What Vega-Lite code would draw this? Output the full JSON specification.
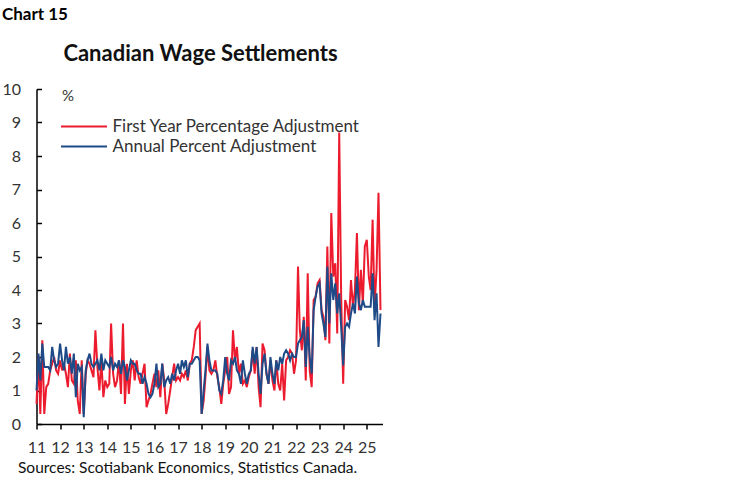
{
  "$schema": "https://vega.github.io/schema/vega-lite/v6.json",
  "background": "white",
  "padding": {"left": 1.5, "top": 6, "right": 5, "bottom": 5},
  "config": {"font": "Lato", "view": {"stroke": null}},
  "title": {
    "text": "Chart 15",
    "anchor": "start",
    "frame": "bounds",
    "fontSize": 17,
    "fontWeight": "bold",
    "color": "#000000",
    "offset": 19
  },
  "vconcat": [
    {
      "width": 346,
      "height": 335,
      "title": {
        "text": "Canadian Wage Settlements",
        "fontSize": 22,
        "fontWeight": "bold",
        "color": "#111111",
        "offset": 15,
        "dx": -9
      },
      "data": {
        "values": [
          {"d": "2011-01-01", "f": 0.6, "a": 1.0},
          {"d": "2011-02-01", "f": 2.0, "a": 2.1},
          {"d": "2011-03-01", "f": 0.3, "a": 1.3},
          {"d": "2011-04-01", "f": 2.5, "a": 2.4},
          {"d": "2011-05-01", "f": 0.3, "a": 1.7},
          {"d": "2011-06-01", "f": 1.1, "a": 1.7},
          {"d": "2011-07-01", "f": 1.2, "a": 1.7},
          {"d": "2011-08-01", "f": 1.6, "a": 1.6},
          {"d": "2011-09-01", "f": 1.8, "a": 2.3},
          {"d": "2011-10-01", "f": 2.0, "a": 1.9},
          {"d": "2011-11-01", "f": 1.6, "a": 1.7},
          {"d": "2011-12-01", "f": 1.5, "a": 1.8},
          {"d": "2012-01-01", "f": 1.9, "a": 2.4},
          {"d": "2012-02-01", "f": 1.6, "a": 1.9},
          {"d": "2012-03-01", "f": 1.8, "a": 1.6},
          {"d": "2012-04-01", "f": 1.5, "a": 2.3},
          {"d": "2012-05-01", "f": 1.1, "a": 1.8},
          {"d": "2012-06-01", "f": 2.1, "a": 2.0},
          {"d": "2012-07-01", "f": 1.3, "a": 1.5},
          {"d": "2012-08-01", "f": 1.2, "a": 2.1},
          {"d": "2012-09-01", "f": 1.9, "a": 0.8},
          {"d": "2012-10-01", "f": 0.7, "a": 1.8},
          {"d": "2012-11-01", "f": 0.3, "a": 1.6},
          {"d": "2012-12-01", "f": 1.9, "a": 1.7},
          {"d": "2013-01-01", "f": 0.3, "a": 0.2},
          {"d": "2013-02-01", "f": 1.5, "a": 1.6},
          {"d": "2013-03-01", "f": 1.9, "a": 1.9},
          {"d": "2013-04-01", "f": 1.8, "a": 2.1},
          {"d": "2013-05-01", "f": 1.6, "a": 1.8},
          {"d": "2013-06-01", "f": 1.4, "a": 1.7},
          {"d": "2013-07-01", "f": 2.8, "a": 1.8},
          {"d": "2013-08-01", "f": 1.7, "a": 1.9},
          {"d": "2013-09-01", "f": 1.0, "a": 1.6},
          {"d": "2013-10-01", "f": 1.9, "a": 2.1},
          {"d": "2013-11-01", "f": 0.8, "a": 1.6},
          {"d": "2013-12-01", "f": 1.3, "a": 1.9},
          {"d": "2014-01-01", "f": 1.1, "a": 1.8},
          {"d": "2014-02-01", "f": 1.2, "a": 1.7},
          {"d": "2014-03-01", "f": 3.0, "a": 2.0},
          {"d": "2014-04-01", "f": 1.5, "a": 1.6},
          {"d": "2014-05-01", "f": 1.1, "a": 1.8},
          {"d": "2014-06-01", "f": 1.3, "a": 1.7},
          {"d": "2014-07-01", "f": 1.9, "a": 1.9},
          {"d": "2014-08-01", "f": 0.9, "a": 1.5},
          {"d": "2014-09-01", "f": 3.0, "a": 1.9},
          {"d": "2014-10-01", "f": 0.6, "a": 1.7},
          {"d": "2014-11-01", "f": 1.8, "a": 1.3},
          {"d": "2014-12-01", "f": 0.9, "a": 1.6},
          {"d": "2015-01-01", "f": 1.6, "a": 1.9},
          {"d": "2015-02-01", "f": 1.9, "a": 1.8},
          {"d": "2015-03-01", "f": 1.3, "a": 1.8},
          {"d": "2015-04-01", "f": 1.9, "a": 1.6},
          {"d": "2015-05-01", "f": 1.4, "a": 1.5},
          {"d": "2015-06-01", "f": 1.2, "a": 1.5},
          {"d": "2015-07-01", "f": 1.5, "a": 1.2},
          {"d": "2015-08-01", "f": 1.8, "a": 1.4},
          {"d": "2015-09-01", "f": 0.5, "a": 1.2},
          {"d": "2015-10-01", "f": 0.7, "a": 0.9},
          {"d": "2015-11-01", "f": 0.9, "a": 0.8},
          {"d": "2015-12-01", "f": 1.2, "a": 0.9},
          {"d": "2016-01-01", "f": 1.5, "a": 1.2},
          {"d": "2016-02-01", "f": 1.1, "a": 1.8},
          {"d": "2016-03-01", "f": 1.6, "a": 1.1},
          {"d": "2016-04-01", "f": 0.8, "a": 1.2},
          {"d": "2016-05-01", "f": 1.8, "a": 1.8},
          {"d": "2016-06-01", "f": 1.3, "a": 1.1},
          {"d": "2016-07-01", "f": 0.3, "a": 1.3},
          {"d": "2016-08-01", "f": 0.6, "a": 1.4},
          {"d": "2016-09-01", "f": 1.0, "a": 1.2},
          {"d": "2016-10-01", "f": 1.4, "a": 1.5},
          {"d": "2016-11-01", "f": 1.8, "a": 1.3},
          {"d": "2016-12-01", "f": 1.3, "a": 1.6},
          {"d": "2017-01-01", "f": 1.4, "a": 1.8},
          {"d": "2017-02-01", "f": 1.3, "a": 1.5},
          {"d": "2017-03-01", "f": 1.5, "a": 1.9},
          {"d": "2017-04-01", "f": 1.4, "a": 1.7},
          {"d": "2017-05-01", "f": 1.6, "a": 1.9},
          {"d": "2017-06-01", "f": 1.3, "a": 1.4},
          {"d": "2017-07-01", "f": 1.8, "a": 1.8},
          {"d": "2017-08-01", "f": 1.9, "a": 1.8},
          {"d": "2017-09-01", "f": 2.3, "a": 1.9},
          {"d": "2017-10-01", "f": 2.8, "a": 2.0},
          {"d": "2017-11-01", "f": 2.9, "a": 2.0},
          {"d": "2017-12-01", "f": 3.0, "a": 1.9},
          {"d": "2018-01-01", "f": 0.3, "a": 0.3},
          {"d": "2018-02-01", "f": 0.7, "a": 1.0},
          {"d": "2018-03-01", "f": 1.4, "a": 1.6},
          {"d": "2018-04-01", "f": 2.3, "a": 2.4},
          {"d": "2018-05-01", "f": 1.6, "a": 1.9},
          {"d": "2018-06-01", "f": 1.5, "a": 1.6},
          {"d": "2018-07-01", "f": 1.6, "a": 1.6},
          {"d": "2018-08-01", "f": 1.9, "a": 1.6},
          {"d": "2018-09-01", "f": 1.4, "a": 1.5},
          {"d": "2018-10-01", "f": 1.1, "a": 1.0},
          {"d": "2018-11-01", "f": 0.6, "a": 0.9},
          {"d": "2018-12-01", "f": 1.2, "a": 1.3},
          {"d": "2019-01-01", "f": 1.6, "a": 2.0},
          {"d": "2019-02-01", "f": 2.0, "a": 1.5},
          {"d": "2019-03-01", "f": 0.9, "a": 1.3},
          {"d": "2019-04-01", "f": 1.1, "a": 1.9},
          {"d": "2019-05-01", "f": 2.8, "a": 1.8},
          {"d": "2019-06-01", "f": 1.9, "a": 2.0},
          {"d": "2019-07-01", "f": 2.3, "a": 1.6},
          {"d": "2019-08-01", "f": 1.5, "a": 1.5},
          {"d": "2019-09-01", "f": 1.8, "a": 1.2},
          {"d": "2019-10-01", "f": 1.2, "a": 1.9},
          {"d": "2019-11-01", "f": 1.3, "a": 1.5},
          {"d": "2019-12-01", "f": 1.1, "a": 1.2},
          {"d": "2020-01-01", "f": 1.4, "a": 1.5},
          {"d": "2020-02-01", "f": 1.6, "a": 1.6},
          {"d": "2020-03-01", "f": 2.2, "a": 2.3},
          {"d": "2020-04-01", "f": 1.5, "a": 1.8},
          {"d": "2020-05-01", "f": 2.3, "a": 2.3},
          {"d": "2020-06-01", "f": 1.1, "a": 1.5},
          {"d": "2020-07-01", "f": 0.5, "a": 0.9},
          {"d": "2020-08-01", "f": 2.4, "a": 1.8},
          {"d": "2020-09-01", "f": 2.2, "a": 2.1},
          {"d": "2020-10-01", "f": 1.5, "a": 1.5},
          {"d": "2020-11-01", "f": 1.2, "a": 1.2},
          {"d": "2020-12-01", "f": 1.9, "a": 2.0},
          {"d": "2021-01-01", "f": 1.3, "a": 1.5},
          {"d": "2021-02-01", "f": 1.0, "a": 1.2},
          {"d": "2021-03-01", "f": 1.9, "a": 1.9},
          {"d": "2021-04-01", "f": 1.2, "a": 1.6},
          {"d": "2021-05-01", "f": 1.0, "a": 2.0},
          {"d": "2021-06-01", "f": 1.8, "a": 1.8},
          {"d": "2021-07-01", "f": 0.7, "a": 2.1},
          {"d": "2021-08-01", "f": 1.9, "a": 2.2},
          {"d": "2021-09-01", "f": 2.0, "a": 2.1},
          {"d": "2021-10-01", "f": 2.2, "a": 1.9},
          {"d": "2021-11-01", "f": 2.1, "a": 2.1},
          {"d": "2021-12-01", "f": 1.5, "a": 2.0},
          {"d": "2022-01-01", "f": 1.9, "a": 2.0},
          {"d": "2022-02-01", "f": 4.7, "a": 2.4},
          {"d": "2022-03-01", "f": 2.8, "a": 2.5},
          {"d": "2022-04-01", "f": 2.2, "a": 2.6},
          {"d": "2022-05-01", "f": 3.2, "a": 3.1},
          {"d": "2022-06-01", "f": 1.3, "a": 1.7},
          {"d": "2022-07-01", "f": 4.5, "a": 2.9},
          {"d": "2022-08-01", "f": 1.6, "a": 2.0},
          {"d": "2022-09-01", "f": 1.1, "a": 1.5},
          {"d": "2022-10-01", "f": 3.7, "a": 3.4},
          {"d": "2022-11-01", "f": 3.8, "a": 3.8},
          {"d": "2022-12-01", "f": 4.2, "a": 4.1},
          {"d": "2023-01-01", "f": 4.3, "a": 4.2},
          {"d": "2023-02-01", "f": 3.4, "a": 3.3},
          {"d": "2023-03-01", "f": 3.2, "a": 3.0},
          {"d": "2023-04-01", "f": 2.5, "a": 2.6},
          {"d": "2023-05-01", "f": 5.3, "a": 4.7},
          {"d": "2023-06-01", "f": 2.4, "a": 3.0},
          {"d": "2023-07-01", "f": 6.3, "a": 4.5},
          {"d": "2023-08-01", "f": 4.4, "a": 3.7},
          {"d": "2023-09-01", "f": 4.8, "a": 4.2},
          {"d": "2023-10-01", "f": 2.7, "a": 3.3},
          {"d": "2023-11-01", "f": 8.7, "a": 3.9},
          {"d": "2023-12-01", "f": 3.8, "a": 2.9},
          {"d": "2024-01-01", "f": 1.2, "a": 1.75},
          {"d": "2024-02-01", "f": 3.7, "a": 2.9},
          {"d": "2024-03-01", "f": 3.5, "a": 3.0},
          {"d": "2024-04-01", "f": 3.1, "a": 2.9},
          {"d": "2024-05-01", "f": 4.3, "a": 3.3},
          {"d": "2024-06-01", "f": 3.5, "a": 3.6},
          {"d": "2024-07-01", "f": 4.0, "a": 3.3},
          {"d": "2024-08-01", "f": 5.7, "a": 4.4},
          {"d": "2024-09-01", "f": 3.4, "a": 3.6},
          {"d": "2024-10-01", "f": 4.6, "a": 3.4},
          {"d": "2024-11-01", "f": 3.6, "a": 3.7},
          {"d": "2024-12-01", "f": 5.3, "a": 3.5},
          {"d": "2025-01-01", "f": 5.5, "a": 3.5},
          {"d": "2025-02-01", "f": 4.4, "a": 3.5},
          {"d": "2025-03-01", "f": 4.0, "a": 3.5},
          {"d": "2025-04-01", "f": 6.1, "a": 4.5},
          {"d": "2025-05-01", "f": 3.5, "a": 3.1},
          {"d": "2025-06-01", "f": 4.6, "a": 3.9},
          {"d": "2025-07-01", "f": 6.9, "a": 2.3},
          {"d": "2025-08-01", "f": 3.4, "a": 3.3}
        ]
      },
      "transform": [{"fold": ["f", "a"], "as": ["series", "value"]}],
      "mark": {"type": "line", "strokeWidth": 2},
      "encoding": {
        "x": {
          "field": "d",
          "type": "temporal",
          "scale": {
            "type": "utc",
            "domain": [
              {"year": 2011, "month": 1, "date": 1, "utc": true},
              {"year": 2025, "month": 9, "date": 1, "utc": true}
            ]
          },
          "axis": {
            "tickCount": {"interval": "year", "step": 1},
            "labelExpr": "utcFormat(datum.value, '%y')",
            "grid": false,
            "domainColor": "#000000",
            "domainWidth": 1.5,
            "tickColor": "#000000",
            "tickWidth": 1.5,
            "tickSize": 5,
            "labelFontSize": 16,
            "labelColor": "#333333",
            "labelPadding": 10,
            "labelFlush": false,
            "labelOverlap": false,
            "title": "Sources: Scotiabank Economics, Statistics Canada.",
            "titleFontSize": 15.5,
            "titleFontWeight": "normal",
            "titleColor": "#111111",
            "titleAnchor": "start",
            "titleAlign": "left",
            "titleBaseline": "alphabetic",
            "titleX": -19,
            "titleY": 48
          }
        },
        "y": {
          "field": "value",
          "type": "quantitative",
          "scale": {"domain": [0, 10], "nice": false},
          "axis": {
            "values": [0, 1, 2, 3, 4, 5, 6, 7, 8, 9, 10],
            "grid": false,
            "domainColor": "#000000",
            "domainWidth": 1.5,
            "tickColor": "#000000",
            "tickWidth": 1.5,
            "tickSize": -5,
            "labelFontSize": 16,
            "labelColor": "#333333",
            "labelPadding": 21,
            "title": "%",
            "titleAngle": 0,
            "titleFontSize": 15,
            "titleFontWeight": "normal",
            "titleColor": "#333333",
            "titleAlign": "left",
            "titleBaseline": "middle",
            "titleX": 25,
            "titleY": 6
          }
        },
        "color": {
          "field": "series",
          "type": "nominal",
          "scale": {"domain": ["f", "a"], "range": ["#EC1C2E", "#1E4A88"]},
          "legend": {
            "title": null,
            "orient": "none",
            "legendX": 39,
            "legendY": 29,
            "symbolType": "M-4.6,0H4.6",
            "symbolSize": 100,
            "symbolStrokeWidth": 2,
            "symbolFillColor": "transparent",
            "labelFontSize": 17,
            "labelColor": "#333333",
            "labelOffset": 20,
            "labelLimit": 400,
            "rowPadding": 2,
            "labelExpr": "datum.label == 'f' ? 'First Year Percentage Adjustment' : 'Annual Percent Adjustment'"
          }
        }
      }
    }
  ]
}
